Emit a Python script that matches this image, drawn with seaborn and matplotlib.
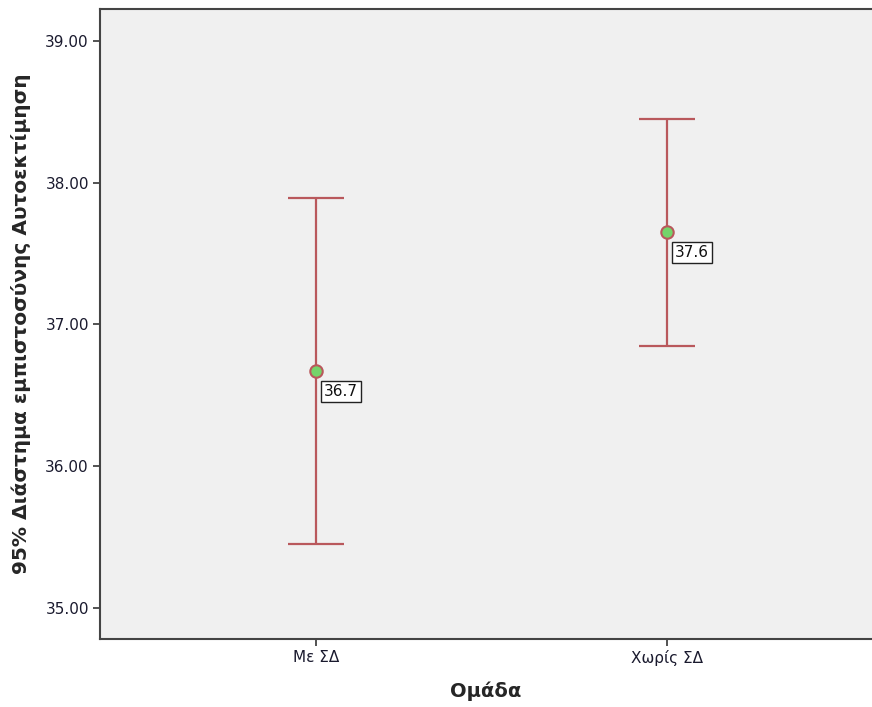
import matplotlib
matplotlib.use("Agg")
import matplotlib.pyplot as plt
import seaborn as sns
import pandas as pd

groups = ["Με ΣΔ", "Χωρίς ΣΔ"]
means = [36.67, 37.65]
ci_low = [35.45, 36.85]
ci_high = [37.89, 38.45]
point_labels = ["36.7", "37.6"]

sns.set_theme(style="white")
plt.rcParams['font.family'] = ['DejaVu Sans']

df = pd.DataFrame({"group": groups, "mean": means, "lo": ci_low, "hi": ci_high})
df["x"] = range(len(groups))

fig = plt.figure(figsize=(8.72, 7.07), dpi=100)
ax = fig.add_axes([100/872, 1-639/707, 1-100/872, (639-9)/707])
ax.set_facecolor("#f0f0f0")

err_col = "#b9585c"
yerr = [df["mean"] - df["lo"], df["hi"] - df["mean"]]
ax.errorbar(df["x"], df["mean"], yerr=yerr, fmt="none", ecolor=err_col,
            elinewidth=1.6, capsize=28*0.72, capthick=1.6, zorder=2)
sns.scatterplot(data=df, x="x", y="mean", ax=ax, s=80, color="#74d46a",
                edgecolor="#b9585c", linewidth=1.5, zorder=3, legend=False)

for xi, yi, lab in zip(df["x"], df["mean"], point_labels):
    ax.annotate(lab, (xi, yi), xytext=(8, -20), textcoords="offset pixels",
                ha="left", va="center", fontsize=11, color="#111",
                bbox=dict(boxstyle="square,pad=0.2", fc="white", ec="#222", lw=1))

ax.set_xlim(-0.615, 1.584)
ax.set_ylim(34.78, 39.225)
ax.set_xticks(df["x"])
ax.set_xticklabels(groups)
ax.set_yticks([35, 36, 37, 38, 39])
ax.set_yticklabels([f"{v:.2f}" for v in [35, 36, 37, 38, 39]])
ax.tick_params(axis="both", direction="out", length=5, width=1.3, color="#444",
               labelsize=11, labelcolor="#1a1a2e", left=True, bottom=True, pad=3)

for s in ["left", "bottom", "top"]:
    ax.spines[s].set_color("#444")
    ax.spines[s].set_linewidth(1.5)
ax.spines["right"].set_visible(False)

ax.set_xlabel("Ομάδα", fontsize=14, fontweight="bold", labelpad=11)
ax.set_ylabel("95% Διάστημα εμπιστοσύνης Αυτοεκτίμηση", fontsize=14.5,
              fontweight="bold", labelpad=10)

fig.savefig("out.png", dpi=100)
